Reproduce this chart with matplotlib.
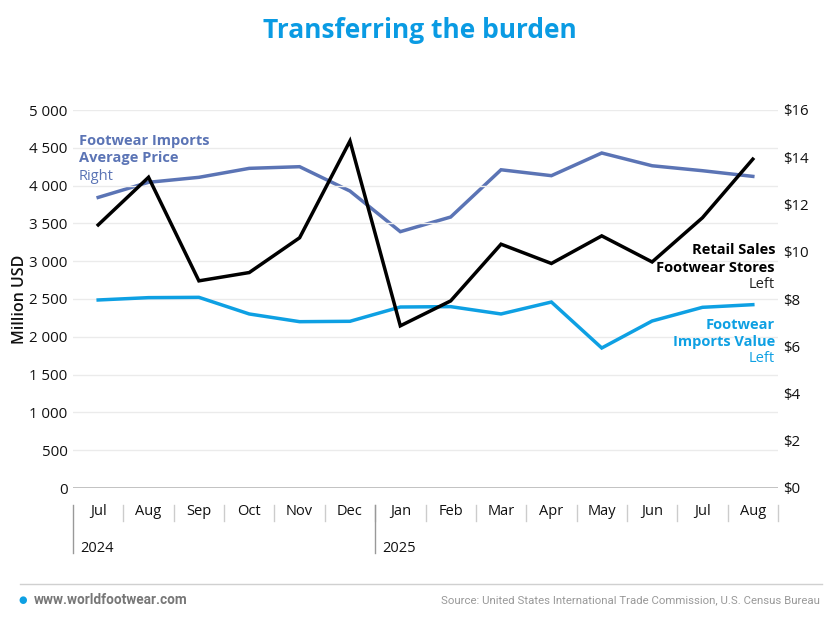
import numpy as np
import matplotlib
matplotlib.use('Agg')
import matplotlib.pyplot as plt
import matplotlib.transforms as mtransforms

#============================================================
# data
months = ['Jul', 'Aug', 'Sep', 'Oct', 'Nov', 'Dec', 'Jan', 'Feb', 'Mar', 'Apr', 'May', 'Jun', 'Jul', 'Aug']
years = ['2024', '2025']
year_start = [0, 6]   # index of first month of each year
retail_sales = [3480, 4110, 2740, 2850, 3310, 4590, 2145, 2475, 3225, 2970, 3335, 2990, 3575, 4350]
imports_value = [2487, 2518, 2522, 2302, 2200, 2205, 2394, 2399, 2302, 2460, 1852, 2209, 2390, 2425]
avg_price = [12.30, 12.94, 13.15, 13.53, 13.60, 12.57, 10.85, 11.47, 13.47, 13.22, 14.18, 13.64, 13.43, 13.19]
left_ticks = [0, 500, 1000, 1500, 2000, 2500, 3000, 3500, 4000, 4500, 5000]
right_ticks = [0, 2, 4, 6, 8, 10, 12, 14, 16]
#============================================================

BLACK = '#000000'
BLUE = '#0ea0e3'
SLATE = '#5b74b5'
GRID = '#ebebeb'
FONT = ['Open Sans', 'DejaVu Sans']

plt.rcParams['font.family'] = FONT

fig = plt.figure(figsize=(8.4, 6.24), dpi=100)
ax = fig.add_axes([73/840, 1-488/624, 705/840, 378/624])
ax2 = ax.twinx()

x = np.arange(len(months))
ax.plot(x, imports_value, color=BLUE, lw=2.5, zorder=3, solid_joinstyle='miter')
ax.plot(x, retail_sales, color=BLACK, lw=2.5, zorder=4, solid_joinstyle='miter')
ax2.plot(x, avg_price, color=SLATE, lw=2.5, zorder=3, solid_joinstyle='miter')
ax.set_zorder(ax2.get_zorder()+1)
ax.patch.set_visible(False)

ax.set_xlim(-0.5, len(months)-0.5)
ax.set_ylim(0, 5000)
ax2.set_ylim(0, 16)
ax.set_yticks(left_ticks)
ax.set_yticklabels([f'{v:,}'.replace(',', ' ') for v in left_ticks])
ax2.set_yticks(right_ticks)
ax2.set_yticklabels([f'${v}' for v in right_ticks])
ax.set_xticks([])
for a in (ax, ax2):
    for s in a.spines.values():
        s.set_visible(False)
    a.tick_params(axis='y', length=0, labelsize=10.8, colors='#111111')
ax.tick_params(axis='y', pad=4)
ax2.tick_params(axis='y', pad=4)
ax.grid(axis='y', color=GRID, lw=1, zorder=0)
ax.axhline(0, color='#bdbdbd', lw=2, zorder=2)
ax.set_ylabel('Million USD', fontsize=11.5, labelpad=1, color='#111111', fontweight='semibold')

# month / year axis below the chart
trans = mtransforms.blended_transform_factory(ax.transData, ax.transAxes)
for i, m in enumerate(months):
    ax.text(i, -0.063, m, transform=trans, ha='center', va='center', fontsize=10.5, color='#111111')
    ax.plot([i+0.5, i+0.5], [-0.045, -0.087], transform=trans, color='#cccccc', lw=1, clip_on=False)
for s, yr in zip(year_start, years):
    ax.plot([s-0.5, s-0.5], [-0.045, -0.172], transform=trans, color='#999999', lw=1, clip_on=False)
    ax.text(s-0.36, -0.159, yr, transform=trans, ha='left', va='center', fontsize=10.5, color='#111111')

# series labels
fig.text(79/840, 1-141/624, 'Footwear Imports', color=SLATE, fontsize=10.5, fontweight='bold', va='center')
fig.text(79/840, 1-158/624, 'Average Price', color=SLATE, fontsize=10.5, fontweight='bold', va='center')
fig.text(79/840, 1-176/624, 'Right', color=SLATE, fontsize=10.5, va='center')
fig.text(775/840, 1-250/624, 'Retail Sales', color=BLACK, fontsize=10.5, fontweight='bold', va='center', ha='right')
fig.text(775/840, 1-268/624, 'Footwear Stores', color=BLACK, fontsize=10.5, fontweight='bold', va='center', ha='right')
fig.text(775/840, 1-285/624, 'Left', color='#222222', fontsize=10.5, va='center', ha='right')
fig.text(775/840, 1-325/624, 'Footwear', color=BLUE, fontsize=10.5, fontweight='bold', va='center', ha='right')
fig.text(775/840, 1-342/624, 'Imports Value', color=BLUE, fontsize=10.5, fontweight='bold', va='center', ha='right')
fig.text(775/840, 1-359/624, 'Left', color=BLUE, fontsize=10.5, va='center', ha='right')

# title
fig.text(0.5, 1-30/624, 'Transferring the burden', color='#0a9be3', fontsize=19, fontweight='bold', ha='center', va='center')

# footer
fig.add_artist(plt.Line2D([20/840, 822/840], [1-584/624, 1-584/624], color='#d0d0d0', lw=1))
fig.text(23/840, 1-600/624, '\u25CF', color=BLUE, fontsize=7, ha='center', va='center', family='DejaVu Sans')
fig.text(34/840, 1-600/624, 'www.worldfootwear.com', color='#777777', fontsize=9.8, fontweight='bold', va='center', family=['Roboto', 'DejaVu Sans'])
fig.text(820/840, 1-600/624, 'Source: United States International Trade Commission, U.S. Census Bureau',
         color='#999999', fontsize=8.2, ha='right', va='center', family=['Roboto', 'DejaVu Sans'])

fig.savefig('out.png', dpi=100, facecolor='white')
